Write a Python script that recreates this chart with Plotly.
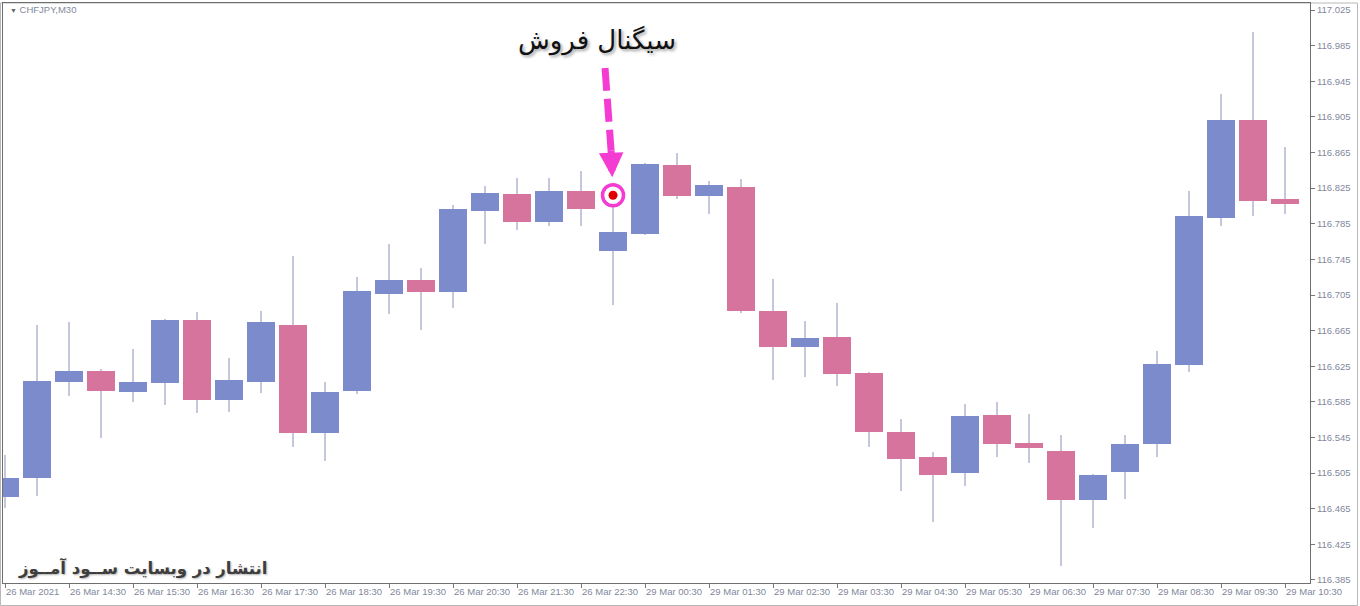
import plotly.graph_objects as go

# ---------------- data ----------------
opens = [116.478, 116.500, 116.607, 116.620, 116.596, 116.606, 116.677, 116.587, 116.607, 116.671,
         116.550, 116.597, 116.706, 116.722, 116.708, 116.799, 116.818, 116.787, 116.822, 116.754,
         116.774, 116.851, 116.816, 116.826, 116.687, 116.647, 116.658, 116.617, 116.551, 116.523,
         116.505, 116.570, 116.539, 116.530, 116.475, 116.506, 116.538, 116.626, 116.792, 116.902,
         116.813]
highs = [116.525, 116.671, 116.675, 116.622, 116.644, 116.678, 116.686, 116.634, 116.687, 116.749,
         116.607, 116.725, 116.762, 116.735, 116.806, 116.827, 116.836, 116.836, 116.844, 116.806,
         116.853, 116.864, 116.833, 116.835, 116.723, 116.676, 116.696, 116.618, 116.566, 116.529,
         116.583, 116.585, 116.571, 116.548, 116.504, 116.548, 116.642, 116.822, 116.931, 117.000,
         116.871]
lows = [116.466, 116.479, 116.592, 116.544, 116.585, 116.582, 116.573, 116.574, 116.595, 116.534,
        116.519, 116.594, 116.684, 116.666, 116.690, 116.762, 116.778, 116.783, 116.783, 116.694,
        116.772, 116.813, 116.796, 116.685, 116.610, 116.613, 116.603, 116.534, 116.485, 116.450,
        116.491, 116.523, 116.516, 116.401, 116.443, 116.476, 116.523, 116.618, 116.783, 116.794,
        116.796]
closes = [116.500, 116.608, 116.620, 116.597, 116.607, 116.677, 116.587, 116.610, 116.675, 116.550,
          116.596, 116.710, 116.722, 116.708, 116.802, 116.820, 116.787, 116.822, 116.802, 116.776,
          116.852, 116.816, 116.829, 116.687, 116.647, 116.657, 116.616, 116.551, 116.521, 116.503,
          116.569, 116.538, 116.533, 116.475, 116.503, 116.538, 116.628, 116.794, 116.902, 116.811,
          116.807]

x_tick_labels = ["26 Mar 2021", "26 Mar 14:30", "26 Mar 15:30", "26 Mar 16:30", "26 Mar 17:30",
                 "26 Mar 18:30", "26 Mar 19:30", "26 Mar 20:30", "26 Mar 21:30", "26 Mar 22:30",
                 "29 Mar 00:30", "29 Mar 01:30", "29 Mar 02:30", "29 Mar 03:30", "29 Mar 04:30",
                 "29 Mar 05:30", "29 Mar 06:30", "29 Mar 07:30", "29 Mar 08:30", "29 Mar 09:30",
                 "29 Mar 10:30"]
y_tick_values = [116.385, 116.425, 116.465, 116.505, 116.545, 116.585, 116.625, 116.665, 116.705,
                 116.745, 116.785, 116.825, 116.865, 116.905, 116.945, 116.985, 117.025]

symbol_title = "CHFJPY,M30"
signal_label = "سیگنال فروش"
watermark = "انتشار در وبسایت ســود آمــوز"
signal_index = 19
signal_price = 116.817

# ---------------- styles ----------------
BULL = "#7b8bcc"
BEAR = "#d6749e"
WICK = "#c3c8db"
AXIS_TXT = "#7f889c"
MAGENTA = "#f43cd2"

idx = list(range(len(opens)))
colors = [BULL if c >= o else BEAR for o, c in zip(opens, closes)]
bases = [min(o, c) for o, c in zip(opens, closes)]
heights = [abs(c - o) for o, c in zip(opens, closes)]
wick_len = [h - l for h, l in zip(highs, lows)]

fig = go.Figure()
# wicks (thin bars, drawn first so bodies cover them)
fig.add_trace(go.Bar(x=idx, base=lows, y=wick_len, width=0.0625,
                     marker=dict(color=WICK, line=dict(width=0)),
                     hoverinfo="skip", showlegend=False))
# bodies
fig.add_trace(go.Bar(x=idx, base=bases, y=heights, width=0.9,
                     marker=dict(color=colors, line=dict(width=0)), showlegend=False))
# signal marker
fig.add_trace(go.Scatter(x=[signal_index], y=[signal_price], mode="markers",
                         marker=dict(symbol="circle", size=21, color="white",
                                     line=dict(color=MAGENTA, width=3.5)),
                         showlegend=False, hoverinfo="skip"))
fig.add_trace(go.Scatter(x=[signal_index], y=[signal_price], mode="markers",
                         marker=dict(symbol="circle", size=9, color="#e00000"),
                         showlegend=False, hoverinfo="skip"))

# dashed arrow shaft
fig.add_shape(type="line", xref="x", yref="y",
              x0=signal_index - 0.25, y0=signal_price + 0.143,
              x1=signal_index - 0.06, y1=signal_price + 0.050,
              line=dict(color=MAGENTA, width=7, dash="23px,8px"))
# arrow head
fig.add_annotation(x=signal_index, y=signal_price, xref="x", yref="y", text="",
                   showarrow=True, arrowhead=2, arrowsize=0.7, arrowwidth=7,
                   arrowcolor=MAGENTA, ax=-2, ay=-46, standoff=18)

# signal text
fig.add_annotation(x=signal_index - 0.5, y=signal_price + 0.174, xref="x", yref="y",
                   text=signal_label, showarrow=False, xanchor="center", yanchor="middle",
                   font=dict(family="DejaVu Sans", size=26, color="#111111",
                             shadow="2px 2px 3px rgba(0,0,0,0.35)"))
# watermark
fig.add_annotation(x=0.010, y=0.026, xref="paper", yref="paper", text="<b>" + watermark + "</b>",
                   showarrow=False, xanchor="left", yanchor="middle",
                   font=dict(family="DejaVu Sans", size=16.5, color="#3e3e3e",
                             shadow="1px 1px 2px rgba(0,0,0,0.3)"))
# symbol title
fig.add_annotation(x=0.004, y=0.988, xref="paper", yref="paper",
                   text="<span style='font-size:7px;color:#666'>▼</span> " + symbol_title,
                   showarrow=False, xanchor="left", yanchor="middle",
                   font=dict(family="Liberation Sans", size=9.5, color=AXIS_TXT))

# outer window frame
fig.add_shape(type="rect", xref="paper", yref="paper",
              x0=-2.5 / 1307, x1=1354.5 / 1307, y0=-22.5 / 580, y1=1.0,
              line=dict(color="#b8b8b8", width=1), fillcolor="rgba(0,0,0,0)", layer="below")

fig.update_layout(
    width=1360, height=606,
    margin=dict(l=3, r=50, t=3, b=23, autoexpand=False),
    paper_bgcolor="white", plot_bgcolor="white",
    showlegend=False, barmode="overlay", bargap=0,
    xaxis=dict(range=[-0.0625, 40.78], showgrid=False, zeroline=False,
               tickmode="array", tickvals=idx[::2], ticktext=x_tick_labels,
               ticklabelposition="outside right", tickangle=0, automargin=False,
               ticks="outside", ticklen=4, tickcolor="#777777",
               tickfont=dict(family="Liberation Sans", size=9.5, color=AXIS_TXT),
               showline=True, linecolor="#6f6f6f", linewidth=1, mirror=True,
               fixedrange=True),
    yaxis=dict(range=[116.3816, 117.0329], side="right", showgrid=False, zeroline=False,
               tickmode="array", tickvals=y_tick_values, tickformat=".3f", automargin=False,
               ticks="outside", ticklen=4, tickcolor="#777777",
               tickfont=dict(family="Liberation Sans", size=9.5, color=AXIS_TXT),
               showline=True, linecolor="#6f6f6f", linewidth=1, mirror=True,
               fixedrange=True),
)

fig.write_html("out.html", config={"displayModeBar": False},
               post_script="document.body.style.margin='0';document.body.style.overflow='hidden';")
